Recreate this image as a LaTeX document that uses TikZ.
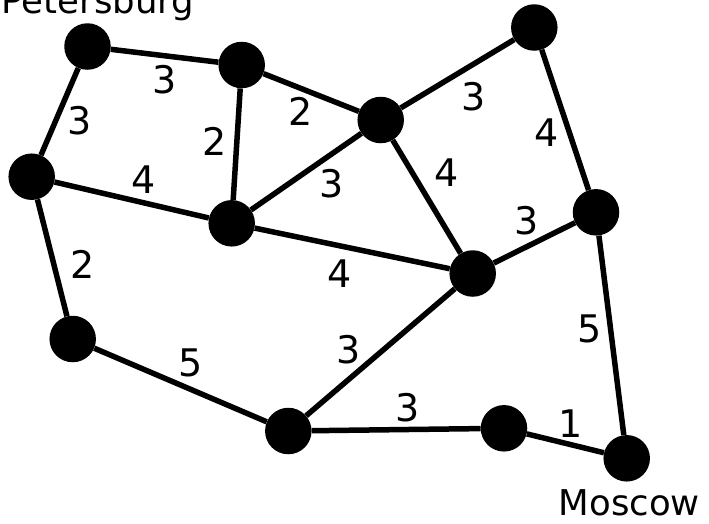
\documentclass[tikz,border=0pt]{standalone}
\usepackage{fontspec}
\setmainfont{DejaVu Sans}
\begin{document}
\begin{tikzpicture}[x=1pt,y=-1pt,
  city/.style={circle,fill=black,minimum size=46.5pt,inner sep=0pt},
  road/.style={line width=5.5pt,black},
  weight/.style={inner sep=0pt,font=\fontsize{38}{40}\selectfont},
  place/.style={inner sep=0pt,anchor=base west,font=\fontsize{35.5}{38}\selectfont}]
\useasboundingbox (0,0) rectangle (709,523);

% cities
\node[city] (a) at (87.5,46.5) {};
\node[city] (b) at (241.7,65) {};
\node[city] (c) at (380.7,120) {};
\node[city] (d) at (534.3,27.5) {};
\node[city] (e) at (31.7,176.7) {};
\node[city] (f) at (231.7,223.3) {};
\node[city] (g) at (596,212.3) {};
\node[city] (h) at (472.7,273.5) {};
\node[city] (i) at (72.7,339) {};
\node[city] (j) at (288.3,431) {};
\node[city] (k) at (504,428.3) {};
\node[city] (l) at (626.7,458.3) {};

% roads
\draw[road] (a) -- (b);
\draw[road] (a) -- (e);
\draw[road] (b) -- (c);
\draw[road] (b) -- (f);
\draw[road] (c) -- (f);
\draw[road] (c) -- (d);
\draw[road] (c) -- (h);
\draw[road] (d) -- (g);
\draw[road] (e) -- (f);
\draw[road] (e) -- (i);
\draw[road] (f) -- (h);
\draw[road] (h) -- (g);
\draw[road] (g) -- (l);
\draw[road] (h) -- (j);
\draw[road] (i) -- (j);
\draw[road] (j) -- (k);
\draw[road] (k) -- (l);

% distances
\node[weight] (wab) at (165,79.3) {3};
\node[weight] (wae) at (80,120.7) {3};
\node[weight] (wbc) at (300.7,111) {2};
\node[weight] (wbf) at (214.3,141.7) {2};
\node[weight] (wcf) at (331.7,183.3) {3};
\node[weight] (wcd) at (473.3,96.7) {3};
\node[weight] (wdg) at (546.7,132.3) {4};
\node[weight] (wch) at (446.7,172.3) {4};
\node[weight] (whg) at (526.7,221) {3};
\node[weight] (wef) at (143.3,179.3) {4};
\node[weight] (wei) at (82.3,264.3) {2};
\node[weight] (wfh) at (339.3,274) {4};
\node[weight] (whj) at (349,350) {3};
\node[weight] (wij) at (190.7,363.3) {5};
\node[weight] (wjk) at (407.3,407.7) {3};
\node[weight] (wgl) at (589.3,329.3) {5};
\node[weight] (wkl) at (570.7,423.3) {1};

% city names
\node[place] (spb) at (1.6,13.3) {Petersburg};
\node[place] (msk) at (558.5,515) {Moscow};
\end{tikzpicture}
\end{document}
